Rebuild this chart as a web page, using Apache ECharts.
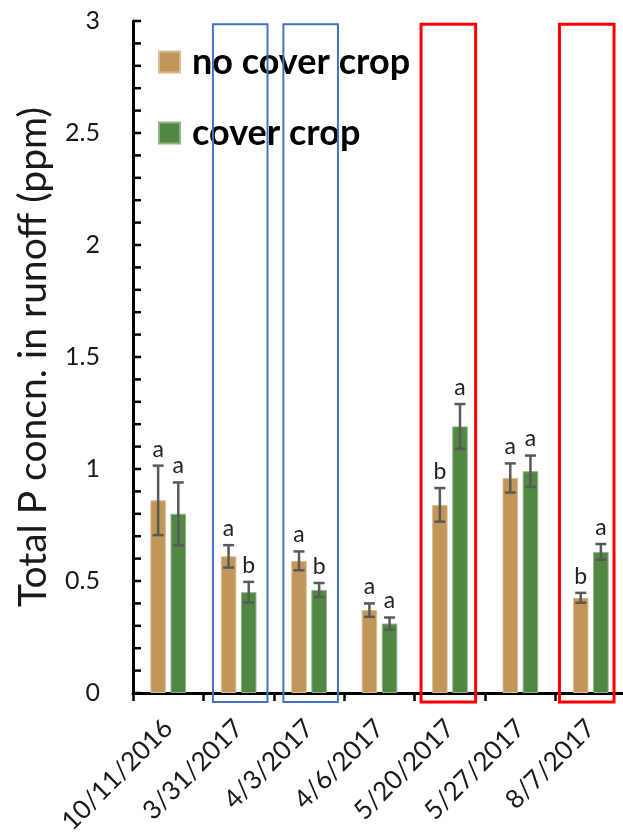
<!DOCTYPE html>
<html>
<head>
<meta charset="utf-8">
<script src="https://cdn.jsdelivr.net/npm/echarts@6/dist/echarts.min.js"></script>
<style>
html,body{margin:0;padding:0;background:#fff;}
#c{width:623px;height:837px;}
</style>
</head>
<body>
<div id="c"></div>
<script>
var categories = ['10/11/2016','3/31/2017','4/3/2017','4/6/2017','5/20/2017','5/27/2017','8/7/2017'];
var noCoverMean = [0.86, 0.61, 0.59, 0.37, 0.84, 0.96, 0.425];
var noCoverErr  = [0.155, 0.05, 0.042, 0.03, 0.075, 0.065, 0.022];
var noCoverLetters = ['a','a','a','a','b','a','b'];
var coverMean = [0.80, 0.45, 0.46, 0.31, 1.19, 0.99, 0.63];
var coverErr  = [0.14, 0.046, 0.031, 0.027, 0.10, 0.07, 0.035];
var coverLetters = ['a','b','b','a','a','a','a'];
var yTicks = [0, 0.5, 1, 1.5, 2, 2.5, 3];
var blueBoxes = ['3/31/2017','4/3/2017'];
var redBoxes = ['5/20/2017','8/7/2017'];

var FONT = 'Lato';
var TAN = '#C29558', GREEN = '#4F8743';
var BAR_W = 15.5, BAR_GAP = 0.3;
var OFF = (BAR_W + BAR_W*BAR_GAP)/2;

function errSeries(name, means, errs, letters, dx) {
  var data = means.map(function(m,i){ return [i, m, errs[i]]; });
  return {
    type: 'custom', name: name + ' err', silent: true, z: 5,
    clip: false,
    data: data,
    renderItem: function(params, api) {
      var i = api.value(0), m = api.value(1), e = api.value(2);
      var hi = api.coord([i, m + e]), lo = api.coord([i, m - e]);
      var x = hi[0] + dx;
      var st = {stroke:'#595959', lineWidth:2.5};
      return {type:'group', children:[
        {type:'line', shape:{x1:x,y1:hi[1],x2:x,y2:lo[1]}, style:st},
        {type:'line', shape:{x1:x-5.5,y1:hi[1],x2:x+5.5,y2:hi[1]}, style:st},
        {type:'line', shape:{x1:x-5.5,y1:lo[1],x2:x+5.5,y2:lo[1]}, style:st},
        {type:'text', style:{x:x, y:hi[1]-5, text:letters[params.dataIndex], fill:'#222',
          font:'23px '+FONT, textAlign:'center', textVerticalAlign:'bottom'}}
      ]};
    }
  };
}

function isMajor(v){ return Math.abs(v*2 - Math.round(v*2)) < 1e-6; }

var chart = echarts.init(document.getElementById('c'), null, {renderer:'canvas'});
chart.setOption({
  backgroundColor:'#fff',
  animation:false,
  grid:{left:133, right:-3, top:21, bottom:144, outerBoundsMode:'none', containLabel:false},
  legend:{
    orient:'vertical', left:158, top:44, padding:0, itemWidth:21, itemHeight:21, itemGap:35,
    icon:'rect',
    data:['no cover crop','cover crop'],
    textStyle:{fontFamily:FONT, fontWeight:'bold', fontSize:36, color:'#000', padding:[0,0,0,7]}
  },
  xAxis:{
    type:'category', data:categories,
    axisLine:{lineStyle:{color:'#000', width:3}},
    axisTick:{show:true, length:8, lineStyle:{color:'#000', width:2.5}},
    axisLabel:{rotate:45, margin:31, fontFamily:FONT, fontSize:26, color:'#1a1a1a', interval:0}
  },
  yAxis:{
    type:'value', min:0, max:3, interval:0.1,
    name:'Total P concn. in runoff (ppm)', nameLocation:'middle', nameGap:80, nameRotate:90,
    nameTextStyle:{fontFamily:FONT, fontSize:39, color:'#1a1a1a'},
    axisLine:{show:true, lineStyle:{color:'#000', width:3}},
    axisTick:{show:false},
    splitLine:{show:false},
    axisLabel:{margin:33, fontFamily:FONT, fontSize:25, color:'#1a1a1a', interval:0,
      formatter:function(v){ return isMajor(v) ? String(Math.round(v*2)/2) : ''; }}
  },
  series:[
    {name:'no cover crop', type:'bar', data:noCoverMean, barWidth:BAR_W, barGap:(BAR_GAP*100)+'%',
     itemStyle:{color:TAN, borderColor:'#D9BC93', borderWidth:1}},
    {name:'cover crop', type:'bar', data:coverMean, barWidth:BAR_W,
     itemStyle:{color:GREEN, borderColor:'#8FB383', borderWidth:1}},
    errSeries('no cover crop', noCoverMean, noCoverErr, noCoverLetters, -OFF),
    errSeries('cover crop', coverMean, coverErr, coverLetters, OFF)
  ]
});

function decorations() {
  var els = [];
  var cx0 = chart.convertToPixel({xAxisIndex:0}, 0);
  var cx1 = chart.convertToPixel({xAxisIndex:0}, 1);
  var catW = cx1 - cx0;
  var axisX = cx0 - catW/2;
  // y-axis ticks pointing into the plot (every 0.1)
  for (var k = 0; k <= 30; k++) {
    var py = chart.convertToPixel({yAxisIndex:0}, k/10);
    els.push({type:'line', z:50, shape:{x1:axisX, y1:py, x2:axisX+8, y2:py},
      style:{stroke:'#000', lineWidth:2.5}});
  }
  var yTop = chart.convertToPixel({yAxisIndex:0}, 2.985);
  var yBot = chart.convertToPixel({yAxisIndex:0}, -0.04);
  function add(cat, color, lw, l, r) {
    var cx = chart.convertToPixel({xAxisIndex:0}, categories.indexOf(cat));
    var x1 = cx - l*catW, x2 = cx + r*catW;
    els.push({type:'rect', z:100, shape:{x:x1, y:yTop, width:x2-x1, height:yBot-yTop},
      style:{fill:'none', stroke:color, lineWidth:lw}});
  }
  blueBoxes.forEach(function(c){ add(c, '#4472C4', 2, 0.365, 0.41); });
  redBoxes.forEach(function(c,k){ add(c, '#FF0000', 3, k===0?0.41:0.445, k===0?0.365:0.33); });
  chart.setOption({graphic:{elements:els}});
}
decorations();
</script>
</body>
</html>
